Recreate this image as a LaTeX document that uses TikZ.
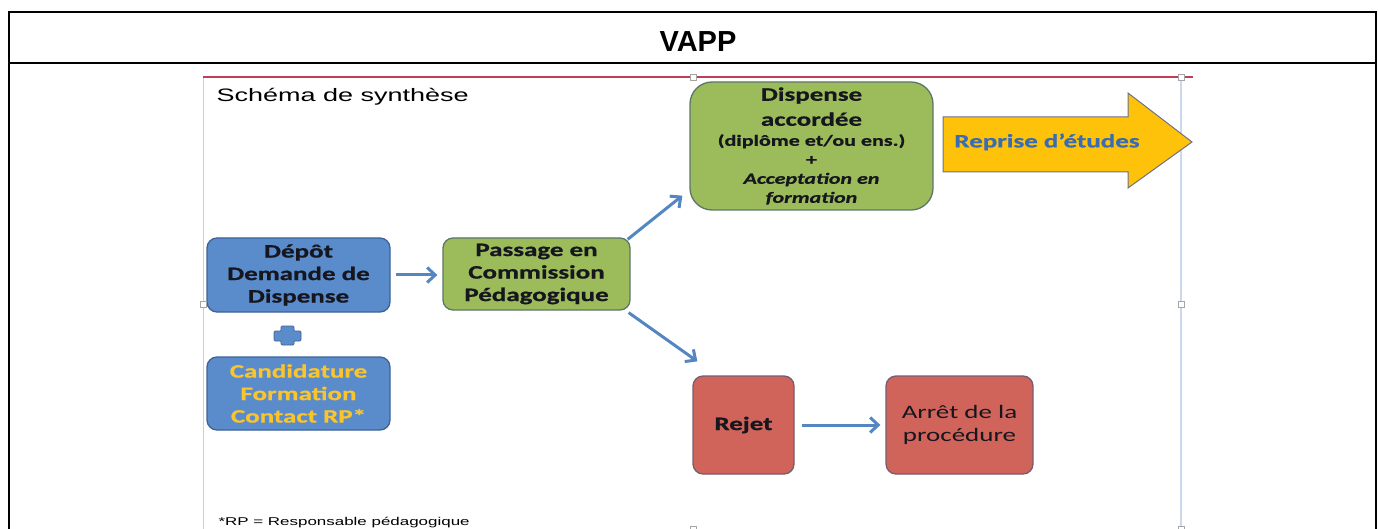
\documentclass[tikz,border=0pt]{standalone}
\usepackage{fontspec}
\setmainfont{Liberation Sans}
\newfontfamily\arialw[FakeStretch=1.5]{Liberation Sans}
\newfontfamily\calw[FakeStretch=1.42, BoldFeatures={FakeBold=0.8}, BoldItalicFeatures={FakeBold=0.8}]{Carlito}
\usetikzlibrary{arrows.meta}
\definecolor{boxblue}{RGB}{90,140,203}
\definecolor{boxblueb}{RGB}{62,98,150}
\definecolor{boxgreen}{RGB}{156,187,90}
\definecolor{boxgreenb}{RGB}{92,118,104}
\definecolor{boxred}{RGB}{208,100,90}
\definecolor{boxredb}{RGB}{118,92,112}
\definecolor{arrblue}{RGB}{84,134,194}
\definecolor{yel}{RGB}{255,194,10}
\definecolor{yelb}{RGB}{112,112,132}
\definecolor{reprisetext}{RGB}{58,108,178}
\definecolor{candtext}{RGB}{250,196,45}
\definecolor{boxtext}{RGB}{22,22,30}
\definecolor{topred}{RGB}{192,62,86}
\definecolor{lightblue}{RGB}{202,216,240}
\definecolor{edgegray}{RGB}{205,205,210}
\begin{document}
\begin{tikzpicture}[x=1pt,y=-1pt,
  frame/.style={line width=2.2pt, black},
  boxnode/.style={draw, line width=1.3pt, rounded corners=10pt, align=center, inner sep=0pt,
    text=boxtext, font=\calw\bfseries\fontsize{19}{22.5}\selectfont},
  flow/.style={arrblue, line width=3pt, -{Straight Barb[length=8pt,width=15pt,line width=3pt]}},
  handle/.style={draw=gray!70, fill=white, line width=0.6pt, minimum size=6pt, inner sep=0pt}]
\useasboundingbox (0,0) rectangle (1378,529);
% outer table frame
\draw[frame] (9,12) -- (1376,12);
\draw[frame] (9,63) -- (1376,63);
\draw[frame] (9,11) -- (9,529);
\draw[frame] (1376,11) -- (1376,529);
\node[font=\bfseries\fontsize{29}{32}\selectfont] (title) at (698,42) {VAPP};
% embedded picture edges
\draw[edgegray, line width=1pt] (203,77) -- (203,529);
\draw[topred, line width=2.5pt] (203,77) -- (1193,77);
\draw[lightblue, line width=1.5pt] (1181,77) -- (1181,529);
\node[anchor=base west, font=\arialw\fontsize{18}{20}\selectfont] (schema) at (213,102) {Schéma de synthèse};
\node[anchor=base west, font=\arialw\fontsize{11.3}{13}\selectfont] (foot) at (215,525) {*RP = Responsable pédagogique};
% boxes
\node[boxnode, fill=boxblue, draw=boxblueb, minimum width=183, minimum height=74] (depot) at (298.5,275) {Dépôt\\Demande de\\Dispense};
\node[boxnode, fill=boxblue, draw=boxblueb, minimum width=183, minimum height=73, text=candtext] (cand) at (298.5,393.5) {Candidature\\Formation\\Contact RP*};
\node[boxnode, fill=boxgreen, draw=boxgreenb, minimum width=187, minimum height=72] (passage) at (536.5,274) {Passage en\\Commission\\Pédagogique};
\node[boxnode, fill=boxgreen, draw=boxgreenb, minimum width=243, minimum height=128, rounded corners=22pt,
  font=\calw\bfseries\fontsize{15.5}{19}\selectfont] (dispense) at (811.5,146)
  {\fontsize{19}{19}\selectfont Dispense\\[6pt]\fontsize{19}{19}\selectfont accordée\\[1pt]\fontsize{15.5}{19}\selectfont(diplôme et/ou ens.)\\+\\\itshape Acceptation en\\\itshape formation};
\node[boxnode, fill=boxred, draw=boxredb, minimum width=101, minimum height=98] (rejet) at (743.5,425) {Rejet};
\node[boxnode, fill=boxred, draw=boxredb, minimum width=147, minimum height=98, font=\calw\fontsize{19}{22.5}\selectfont] (arret) at (959.5,425) {Arrêt de la\\procédure};
% plus sign
\filldraw[fill=boxblue, draw=boxblueb, line width=0.6pt, rounded corners=1pt]
  (281,326) -- (294,326) -- (294,331) -- (301,331) -- (301,341) -- (294,341) -- (294,345)
  -- (281,345) -- (281,341) -- (274,341) -- (274,331) -- (281,331) -- cycle;
% yellow arrow
\filldraw[fill=yel, draw=yelb, line width=1pt]
  (943,117) -- (1128,117) -- (1128,93) -- (1192,142) -- (1128,188) -- (1128,172) -- (943,172) -- cycle;
\node[font=\calw\bfseries\fontsize{19}{22}\selectfont, text=reprisetext] (reprise) at (1047,142) {Reprise d’études};
% connectors
\draw[flow, shorten <=5pt, shorten >=5pt] (depot.east) -- (depot.east -| passage.west);
\draw[flow] ([xshift=-3pt,yshift=-2pt]passage.north east) -- ([xshift=-7pt,yshift=15pt]dispense.south west);
\draw[flow] ([xshift=-2pt,yshift=-2pt]passage.south east) -- ([xshift=5pt,yshift=14pt]rejet.north west);
\draw[flow, shorten <=7pt, shorten >=5pt] (rejet.east) -- (arret.west);
% selection handles
\node[handle] (h1) at (693,77) {};
\node[handle] (h2) at (1181,77) {};
\node[handle] (h3) at (1181,304) {};
\node[handle] (h4) at (203,304) {};
\node[handle] (h5) at (693,529) {};
\node[handle] (h6) at (1181,529) {};
\end{tikzpicture}
\end{document}
